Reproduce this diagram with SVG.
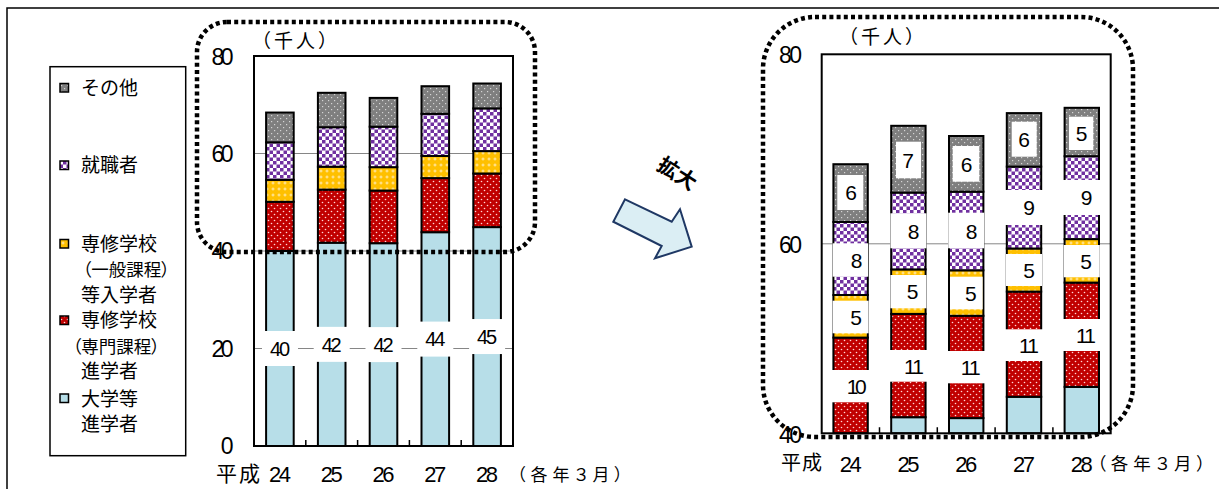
<svg xmlns="http://www.w3.org/2000/svg" width="1219" height="489" viewBox="0 0 1219 489">
<defs>
<style>
.seg{stroke:#000;stroke-width:2}
.gray{fill:url(#pGray)}
.purple{fill:url(#pPurple)}
.yellow{fill:url(#pYellow)}
.red{fill:url(#pRed)}
.blue{fill:#b7dee8}
.grid{stroke:#868686;stroke-width:1}
.tick{stroke:#000;stroke-width:1.5}
.box{fill:#fff}
.plot{fill:none;stroke:#000;stroke-width:2}
.num{font-family:"Liberation Sans",Arial,sans-serif;fill:#000}
.ax{font-size:23px;text-anchor:end}
.cat{font-size:22px;text-anchor:middle}
.lbl{font-size:20px;text-anchor:middle}
.lblr{font-size:21px;text-anchor:middle}
.jp{font-family:"Noto Sans CJK JP",sans-serif;fill:#000}
.pa{font-feature-settings:"palt"}
.leg{font-size:19px}
.legp{font-size:17.5px}
.dot{fill:none;stroke:#000;stroke-width:4.5;stroke-dasharray:4 3.2}
.mk{stroke:#000;stroke-width:1.5}
</style>
<pattern id="pGray" width="6" height="6" patternUnits="userSpaceOnUse">
<rect width="6" height="6" fill="#7f7f7f"/>
<rect x="1" y="1" width="1.2" height="1.2" fill="#d4d4d4"/>
<rect x="4" y="4" width="1.2" height="1.2" fill="#d4d4d4"/>
</pattern>
<pattern id="pPurple" width="7" height="7" patternUnits="userSpaceOnUse">
<rect width="7" height="7" fill="#ffffff"/>
<rect width="3.5" height="3.5" fill="#7030a0"/>
<rect x="3.5" y="3.5" width="3.5" height="3.5" fill="#7030a0"/>
</pattern>
<pattern id="pYellow" width="6" height="6" patternUnits="userSpaceOnUse">
<rect width="6" height="6" fill="#ffc000"/>
<path d="M3 1.5v3M1.5 3h3" stroke="#ffeab0" stroke-width="1"/>
</pattern>
<pattern id="pRed" width="6" height="6" patternUnits="userSpaceOnUse">
<rect width="6" height="6" fill="#c00000"/>
<circle cx="1.5" cy="1.5" r="0.8" fill="#ffd6d6"/>
<circle cx="4.5" cy="4.5" r="0.8" fill="#ffd6d6"/>
</pattern>
</defs>
<rect width="1219" height="489" fill="#fff"/>
<path d="M7 489V8H1219" fill="none" stroke="#000" stroke-width="1.5"/>

<g id="legend">
<rect x="50" y="66.7" width="135.7" height="389" fill="#fff" stroke="#000" stroke-width="1.5"/>
<rect class="mk gray" x="60" y="83.5" width="8.5" height="8.5"/>
<rect class="mk purple" x="60" y="161" width="8.5" height="8.5"/>
<rect class="mk yellow" x="60" y="239.5" width="8.5" height="8.5"/>
<rect class="mk red" x="60" y="316" width="8.5" height="8.5"/>
<rect class="mk blue" x="60" y="394" width="8.5" height="8.5"/>
<text class="jp leg" x="81" y="95">その他</text>
<text class="jp leg" x="81" y="172">就職者</text>
<text class="jp leg" x="81" y="250.5">専修学校</text>
<text class="jp legp pa" x="82.5" y="275.5">（一般課程）</text>
<text class="jp leg" x="81" y="301.5">等入学者</text>
<text class="jp leg" x="81" y="327">専修学校</text>
<text class="jp legp pa" x="72.5" y="353">（専門課程）</text>
<text class="jp leg" x="81" y="377.5">進学者</text>
<text class="jp leg" x="81" y="405.5">大学等</text>
<text class="jp leg" x="81" y="430.5">進学者</text>
</g>

<g id="chart-left">
<line class="grid" x1="254" y1="348.5" x2="513" y2="348.5"/>
<line class="grid" x1="254" y1="251" x2="513" y2="251"/>
<line class="grid" x1="254" y1="153.5" x2="513" y2="153.5"/>
<g id="L24">
<rect class="seg blue" x="266.1" y="251" width="27.6" height="195"/>
<rect class="seg red" x="266.1" y="201.8" width="27.6" height="49.2"/>
<rect class="seg yellow" x="266.1" y="179.8" width="27.6" height="22"/>
<rect class="seg purple" x="266.1" y="142.3" width="27.6" height="37.5"/>
<rect class="seg gray" x="266.1" y="112.55" width="27.6" height="29.75"/>
</g>
<g id="L25">
<rect class="seg blue" x="317.9" y="242.7" width="27.6" height="203.3"/>
<rect class="seg red" x="317.9" y="189.6" width="27.6" height="53.1"/>
<rect class="seg yellow" x="317.9" y="166.7" width="27.6" height="22.9"/>
<rect class="seg purple" x="317.9" y="127.2" width="27.6" height="39.5"/>
<rect class="seg gray" x="317.9" y="92.8" width="27.6" height="34.4"/>
</g>
<g id="L26">
<rect class="seg blue" x="369.7" y="243.2" width="27.6" height="202.8"/>
<rect class="seg red" x="369.7" y="190.55" width="27.6" height="52.65"/>
<rect class="seg yellow" x="369.7" y="167.15" width="27.6" height="23.4"/>
<rect class="seg purple" x="369.7" y="126.7" width="27.6" height="40.45"/>
<rect class="seg gray" x="369.7" y="97.9" width="27.6" height="28.8"/>
</g>
<g id="L27">
<rect class="seg blue" x="421.5" y="232.2" width="27.6" height="213.8"/>
<rect class="seg red" x="421.5" y="178.1" width="27.6" height="54.1"/>
<rect class="seg yellow" x="421.5" y="155.9" width="27.6" height="22.2"/>
<rect class="seg purple" x="421.5" y="113.8" width="27.6" height="42.1"/>
<rect class="seg gray" x="421.5" y="86.2" width="27.6" height="27.6"/>
</g>
<g id="L28">
<rect class="seg blue" x="473.3" y="227.1" width="27.6" height="218.9"/>
<rect class="seg red" x="473.3" y="173.5" width="27.6" height="53.6"/>
<rect class="seg yellow" x="473.3" y="151.1" width="27.6" height="22.4"/>
<rect class="seg purple" x="473.3" y="108.4" width="27.6" height="42.7"/>
<rect class="seg gray" x="473.3" y="83.5" width="27.6" height="24.9"/>
</g>
<g id="L-labels">
<rect class="box" x="262" y="331" width="36" height="35"/>
<rect class="box" x="313.7" y="326.85" width="36" height="35"/>
<rect class="box" x="365.5" y="327.1" width="36" height="35"/>
<rect class="box" x="417.3" y="321.6" width="36" height="35"/>
<rect class="box" x="469.1" y="319.05" width="36" height="35"/>
<text class="num lbl" x="280" y="355.7" textLength="20">40</text>
<text class="num lbl" x="331.7" y="351.55" textLength="20">42</text>
<text class="num lbl" x="383.5" y="351.8" textLength="20">42</text>
<text class="num lbl" x="435.3" y="346.3" textLength="20">44</text>
<text class="num lbl" x="487.1" y="343.75" textLength="20">45</text>
</g>
<rect class="plot" x="254" y="56" width="259" height="390"/>
<path class="tick" d="M305.8 446v-6M357.6 446v-6M409.4 446v-6M461.2 446v-6"/>
<text class="num ax" x="233.5" y="65" textLength="22">80</text>
<text class="num ax" x="233.5" y="161.7" textLength="22">60</text>
<text class="num ax" x="233.5" y="259.2" textLength="22">40</text>
<text class="num ax" x="233.5" y="356.7" textLength="22">20</text>
<text class="num ax" x="233.5" y="454" textLength="11.5">0</text>
<text class="jp" x="252" y="48" font-size="19" letter-spacing="3">（千人）</text>
<text class="jp" x="216" y="481" font-size="21" letter-spacing="2">平成</text>
<text class="num cat" x="280" y="482" textLength="22">24</text>
<text class="num cat" x="331.7" y="482" textLength="22">25</text>
<text class="num cat" x="383.5" y="482" textLength="22">26</text>
<text class="num cat" x="435.3" y="482" textLength="22">27</text>
<text class="num cat" x="487.1" y="482" textLength="22">28</text>
<text class="jp pa" x="517" y="481" font-size="17" letter-spacing="5">（各年３月）</text>
</g>

<g id="arrow">
<polygon points="625,199.3 671.7,221.7 680,209.3 691.7,246.7 655,258.3 661.7,246 613.3,221.7" fill="#dbeef4" stroke="#1f3864" stroke-width="2" stroke-linejoin="miter"/>
<text class="jp" transform="translate(677,174) rotate(33)" y="7" font-size="21" font-weight="bold" text-anchor="middle">拡大</text>
</g>

<g id="chart-right">
<line class="grid" x1="821.7" y1="243.8" x2="1110.7" y2="243.8"/>
<g id="R24">
<rect class="seg red" x="833.4" y="337.6" width="34.4" height="95.7"/>
<rect class="seg yellow" x="833.4" y="295" width="34.4" height="42.6"/>
<rect class="seg purple" x="833.4" y="222" width="34.4" height="73"/>
<rect class="seg gray" x="833.4" y="164.2" width="34.4" height="57.8"/>
</g>
<g id="R25">
<rect class="seg blue" x="891.2" y="417.2" width="34.4" height="16.1"/>
<rect class="seg red" x="891.2" y="313.9" width="34.4" height="103.3"/>
<rect class="seg yellow" x="891.2" y="269.4" width="34.4" height="44.5"/>
<rect class="seg purple" x="891.2" y="192.6" width="34.4" height="76.8"/>
<rect class="seg gray" x="891.2" y="125.8" width="34.4" height="66.8"/>
</g>
<g id="R26">
<rect class="seg blue" x="949" y="418.1" width="34.4" height="15.2"/>
<rect class="seg red" x="949" y="315.8" width="34.4" height="102.3"/>
<rect class="seg yellow" x="949" y="270.3" width="34.4" height="45.5"/>
<rect class="seg purple" x="949" y="191.7" width="34.4" height="78.6"/>
<rect class="seg gray" x="949" y="136" width="34.4" height="55.7"/>
</g>
<g id="R27">
<rect class="seg blue" x="1006.8" y="396.8" width="34.4" height="36.5"/>
<rect class="seg red" x="1006.8" y="291.6" width="34.4" height="105.2"/>
<rect class="seg yellow" x="1006.8" y="248.5" width="34.4" height="43.1"/>
<rect class="seg purple" x="1006.8" y="166.6" width="34.4" height="81.9"/>
<rect class="seg gray" x="1006.8" y="113.1" width="34.4" height="53.5"/>
</g>
<g id="R28">
<rect class="seg blue" x="1064.6" y="386.9" width="34.4" height="46.4"/>
<rect class="seg red" x="1064.6" y="282.6" width="34.4" height="104.3"/>
<rect class="seg yellow" x="1064.6" y="239.1" width="34.4" height="43.5"/>
<rect class="seg purple" x="1064.6" y="156.2" width="34.4" height="82.9"/>
<rect class="seg gray" x="1064.6" y="107.8" width="34.4" height="48.4"/>
</g>
<g id="R-labels">
<rect class="box" x="837.3" y="175" width="26" height="35"/>
<rect class="box" x="832.6" y="243.3" width="35.6" height="33.4"/>
<rect class="box" x="832.6" y="300.7" width="36" height="32.6"/>
<rect class="box" x="831" y="370" width="44" height="32.3"/>
<rect class="box" x="896" y="141.7" width="25" height="36.6"/>
<rect class="box" x="890.4" y="213.3" width="36" height="35"/>
<rect class="box" x="890.4" y="275" width="36" height="33.3"/>
<rect class="box" x="889" y="350" width="46" height="31.7"/>
<rect class="box" x="952.7" y="146" width="26.6" height="35.7"/>
<rect class="box" x="948.2" y="212.7" width="36" height="35.6"/>
<rect class="box" x="950" y="276.7" width="32.7" height="32.6"/>
<rect class="box" x="947" y="351" width="46" height="32.3"/>
<rect class="box" x="1011.7" y="121.7" width="25" height="35"/>
<rect class="box" x="1003" y="190" width="44" height="35"/>
<rect class="box" x="1006" y="254" width="36" height="32"/>
<rect class="box" x="1003" y="329.3" width="46" height="31.7"/>
<rect class="box" x="1069" y="116.7" width="24.3" height="33.3"/>
<rect class="box" x="1062" y="180" width="44" height="35"/>
<rect class="box" x="1063.8" y="245" width="36" height="32.3"/>
<rect class="box" x="1060" y="319" width="46" height="32"/>
<text class="num lblr" x="851" y="200">6</text>
<text class="num lblr" x="856.7" y="267.5">8</text>
<text class="num lblr" x="856" y="324.5">5</text>
<text class="num lblr" x="856.7" y="393.5" textLength="20">10</text>
<text class="num lblr" x="908" y="167.5">7</text>
<text class="num lblr" x="913.5" y="238.5">8</text>
<text class="num lblr" x="912.5" y="299.2">5</text>
<text class="num lblr" x="914" y="373.5" textLength="20">11</text>
<text class="num lblr" x="966.7" y="171.5">6</text>
<text class="num lblr" x="971.7" y="238.5">8</text>
<text class="num lblr" x="970.8" y="300.5">5</text>
<text class="num lblr" x="970.8" y="374.5" textLength="20">11</text>
<text class="num lblr" x="1024.2" y="146.5">6</text>
<text class="num lblr" x="1029" y="215">9</text>
<text class="num lblr" x="1029" y="277.5">5</text>
<text class="num lblr" x="1029" y="352.5" textLength="20">11</text>
<text class="num lblr" x="1081.7" y="140.8">5</text>
<text class="num lblr" x="1086.7" y="205">9</text>
<text class="num lblr" x="1086" y="268.5">5</text>
<text class="num lblr" x="1086" y="342.5" textLength="20">11</text>
</g>
<rect class="plot" x="821.7" y="54.3" width="289" height="379"/>
<path class="tick" d="M879.5 433.3v-6M937.3 433.3v-6M995.1 433.3v-6M1052.9 433.3v-6"/>
<text class="num ax" x="802" y="63" textLength="23">80</text>
<text class="num ax" x="802" y="252.5" textLength="23">60</text>
<text class="num ax" x="802" y="443" textLength="23">40</text>
<text class="jp" x="839" y="44" font-size="19" letter-spacing="3">（千人）</text>
<text class="jp" x="781" y="470" font-size="20" letter-spacing="1">平成</text>
<text class="num cat" x="850.8" y="471.7" textLength="22">24</text>
<text class="num cat" x="908.4" y="471.7" textLength="22">25</text>
<text class="num cat" x="966.2" y="471.7" textLength="22">26</text>
<text class="num cat" x="1024" y="471.7" textLength="22">27</text>
<text class="num cat" x="1081.8" y="471.7" textLength="22">28</text>
<text class="jp pa" x="1097" y="470" font-size="17.5" letter-spacing="5">（各年３月）</text>
</g>

<g id="zoom-frames">
<rect class="dot" x="197" y="22" width="338" height="230" rx="30"/>
<rect class="dot" x="763" y="17" width="370" height="420" rx="52"/>
</g>
</svg>
